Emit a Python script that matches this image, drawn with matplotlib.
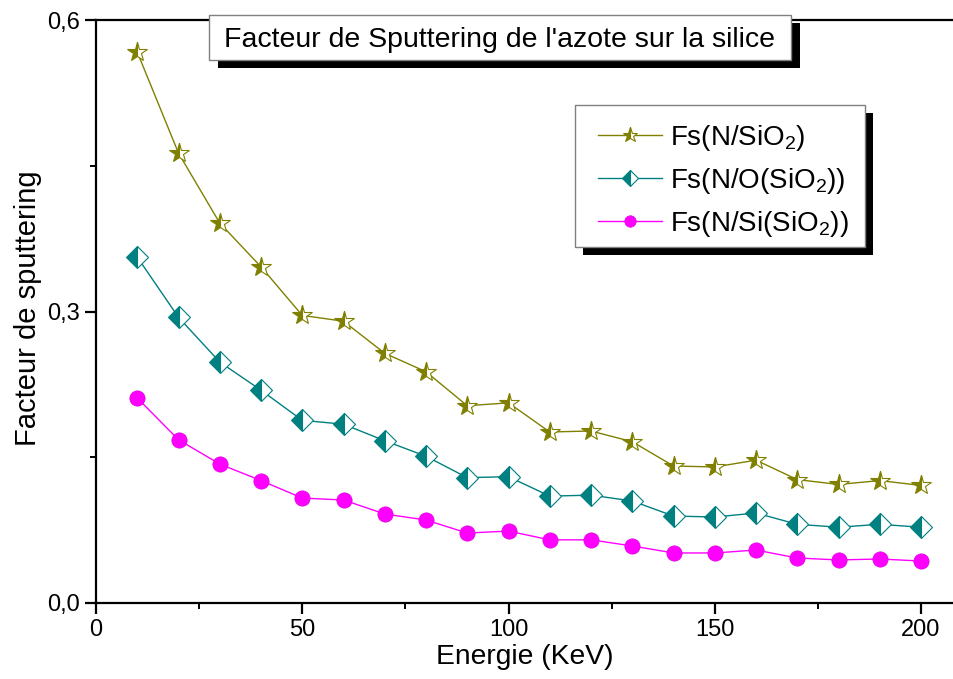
import matplotlib
matplotlib.use("Agg")
import matplotlib.pyplot as plt
from matplotlib.patches import Rectangle
from matplotlib.ticker import FuncFormatter, MultipleLocator

plt.rcParams["font.family"] = ["Liberation Sans", "DejaVu Sans"]
plt.rcParams["mathtext.default"] = "regular"

# --- data ---
energy = [10, 20, 30, 40, 50, 60, 70, 80, 90, 100,
          110, 120, 130, 140, 150, 160, 170, 180, 190, 200]
fs_sio2 = [0.567, 0.463, 0.391, 0.346, 0.296, 0.290, 0.257, 0.238, 0.203, 0.206,
           0.176, 0.177, 0.166, 0.141, 0.140, 0.147, 0.127, 0.122, 0.126, 0.121]
fs_o = [0.356, 0.294, 0.248, 0.219, 0.188, 0.184, 0.167, 0.151, 0.129, 0.130,
        0.110, 0.111, 0.105, 0.0895, 0.0885, 0.0926, 0.081, 0.078, 0.081, 0.078]
fs_si = [0.211, 0.168, 0.143, 0.126, 0.108, 0.106, 0.0916, 0.0854, 0.072, 0.074,
         0.065, 0.065, 0.0587, 0.0515, 0.0515, 0.0545, 0.0463, 0.0443, 0.0453, 0.0432]
labels = ["Fs(N/SiO$_2$)", "Fs(N/O(SiO$_2$))", "Fs(N/Si(SiO$_2$))"]
title_txt = "Facteur de Sputtering de l'azote sur la silice"

W, H = 954, 679
fig = plt.figure(figsize=(W / 100, H / 100), dpi=100)
ax = fig.add_axes([96 / W, 76 / H, (W - 96) / W, (603 - 20) / H])


def px(x0, y0, x1, y1):
    """pixel box (from top-left) -> figure-fraction (x, y, w, h)"""
    return x0 / W, 1 - y1 / H, (x1 - x0) / W, (y1 - y0) / H


ax.plot(energy, fs_sio2, color="#808000", lw=1.0, marker="*", ms=15,
        fillstyle="left", markerfacecoloralt="white", mec="#808000", mew=0.8,
        label=labels[0])
ax.plot(energy, fs_o, color="#008080", lw=1.0, marker="D", ms=11,
        fillstyle="left", markerfacecoloralt="white", mec="#008080", mew=0.8,
        label=labels[1])
ax.plot(energy, fs_si, color="#ff00ff", lw=1.0, marker="o", ms=11,
        mfc="#ff00ff", mec="#e000e0", mew=0.5, label=labels[2])

ax.set_xlim(0, 208)
ax.set_ylim(0, 0.6)
ax.xaxis.set_major_locator(MultipleLocator(50))
ax.xaxis.set_minor_locator(MultipleLocator(25))
ax.yaxis.set_major_locator(MultipleLocator(0.3))
ax.yaxis.set_minor_locator(MultipleLocator(0.15))
ax.yaxis.set_major_formatter(FuncFormatter(lambda v, p: f"{v:.1f}".replace(".", ",")))
ax.spines["right"].set_visible(False)
for s in ("left", "bottom", "top"):
    ax.spines[s].set_linewidth(1.6)
ax.tick_params(which="major", direction="out", length=8, width=1.6, labelsize=17)
ax.tick_params(which="minor", direction="out", length=4, width=1.4)
ax.tick_params(top=False, which="both")

ax.set_xlabel("Energie (KeV)", fontsize=20.3, labelpad=2)
ax.set_ylabel("Facteur de sputtering", fontsize=21)
ax.yaxis.set_label_coords(-0.063, 0.505)

# legend: frameless, with an Origin-style white box + black shadow drawn behind
for (x, y, w, h), fc, ec, z in ((px(583, 113, 873, 255), "black", "none", 4),
                                (px(575, 105, 865, 247), "white", "#808080", 4.5)):
    ax.add_patch(Rectangle((x, y), w, h, transform=fig.transFigure, fc=fc, ec=ec,
                           lw=1.0, zorder=z, clip_on=False))
leg = ax.legend(loc="upper left", bbox_to_anchor=(598 / W, 1 - 123 / H),
                bbox_transform=fig.transFigure, fontsize=20, frameon=False,
                handlelength=2.3, handletextpad=0.3, borderpad=0,
                labelspacing=0.47, borderaxespad=0, markerscale=0.75)

# title box with shadow
for (x, y, w, h), fc, ec, z in ((px(218, 23, 800, 68), "black", "none", 9),
                                (px(209, 15, 791, 60), "white", "#808080", 9.5)):
    fig.add_artist(Rectangle((x, y), w, h, transform=fig.transFigure, fc=fc, ec=ec,
                             lw=1.0, zorder=z))
fig.text(500 / W, 1 - 47 / H, title_txt, ha="center", va="baseline",
         fontsize=20.5, zorder=10)

fig.savefig("out.png", dpi=100)
